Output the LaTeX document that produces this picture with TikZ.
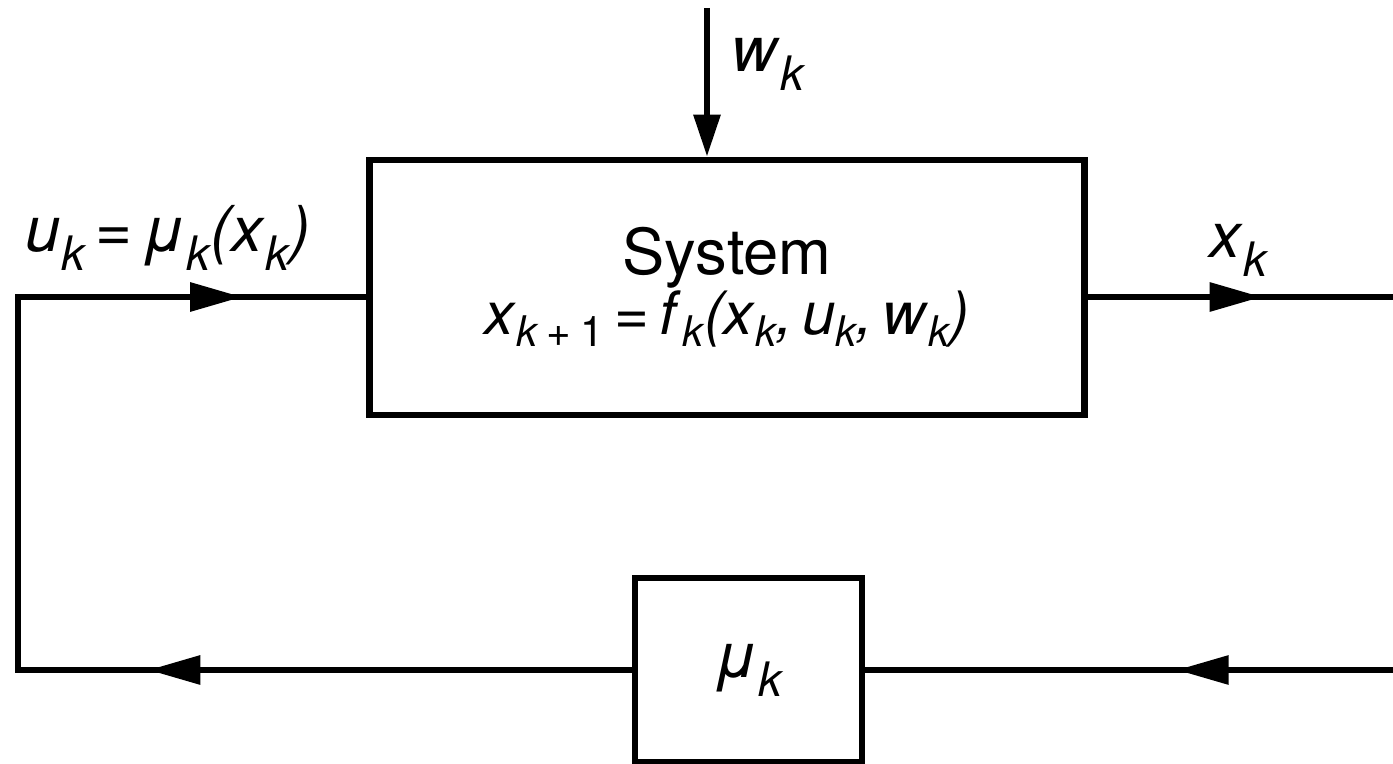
\documentclass[tikz,border=0pt]{standalone}
\usepackage{fontspec}
\setmainfont{TeX Gyre Heros}
\usetikzlibrary{arrows.meta,decorations.markings}
\newcommand\vi[1]{\textit{#1}}
\newcommand\sbs[1]{\raisebox{-0.3em}{\fontsize{13.5}{13.5}\selectfont\itshape #1}}
\newcommand\sbe[1]{\raisebox{-0.2em}{\fontsize{12}{12}\selectfont\itshape #1}}
\tikzset{
  blk/.style={draw, line width=1.9pt, rectangle, inner sep=0pt},
  wire/.style={line width=1.75pt, line join=miter},
  lbl/.style={inner sep=0pt, font=\fontsize{18}{18}\selectfont},
  midarrow/.style={postaction={decorate}, decoration={markings,
     mark=at position #1 with {\arrow{Triangle[length=0.52cm,width=0.28cm]}}}},
}
\begin{document}
\begin{tikzpicture}[x=0.01cm,y=-0.01cm]
\useasboundingbox (0,0) rectangle (1393,764);
% blocks
\node[blk, minimum width=7.14cm, minimum height=2.55cm, align=center,
      font=\fontsize{18}{18}\selectfont] (sys) at (727,287.5)
  {System\\[-1pt]{\fontsize{17}{17}\selectfont\vi{x}\sbe{k\kern2.5pt\textup{+\kern2.5pt1}}\kern3pt=\kern3pt\vi{f}\kern0.5pt\sbe{k}\vi{(x}\sbe{k}\vi{,\kern2.5pt u}\sbe{k}\vi{,\kern2.5pt w}\sbe{k}\vi{)}}};
\node[blk, minimum width=2.27cm, minimum height=1.84cm,
      font=\fontsize{18}{18}\selectfont] (mu) at (748.5,670) {\raisebox{-6pt}{\vi{μ}\sbs{k}}};
% free ends
\coordinate (wtop) at (707,8);
\coordinate (ul) at (18,297);
\coordinate (ll) at (18,670);
\coordinate (xr) at (1393,297);
\coordinate (fr) at (1393,670);
% connectors
\draw[wire, -{Triangle[length=0.42cm,width=0.26cm]}] (wtop) -- (wtop |- sys.north);
\draw[wire, postaction={decorate}, decoration={markings,
     mark=at position 4.83cm with {\arrow{Triangle[length=0.52cm,width=0.28cm]}},
     mark=at position 12.1cm with {\arrow{Triangle[length=0.52cm,width=0.28cm]}}}]
  (mu.west) -- (ll) -- (ul) -- (ul -| sys.west);
\draw[wire, midarrow=0.57] (xr -| sys.east) -- (xr);
\draw[wire, midarrow=0.41] (fr) -- (mu.east);
% labels
\node[lbl] (wl) at (768,64) {\vi{w}\sbs{k}};
\node[lbl] (ulab) at (168,238) {\vi{u}\sbs{k}\,=\,\vi{μ}\sbs{k}\vi{(x}\sbs{k}\vi{)}};
\node[lbl] (xl) at (1238,250) {\vi{x}\sbs{k}};
\end{tikzpicture}
\end{document}
